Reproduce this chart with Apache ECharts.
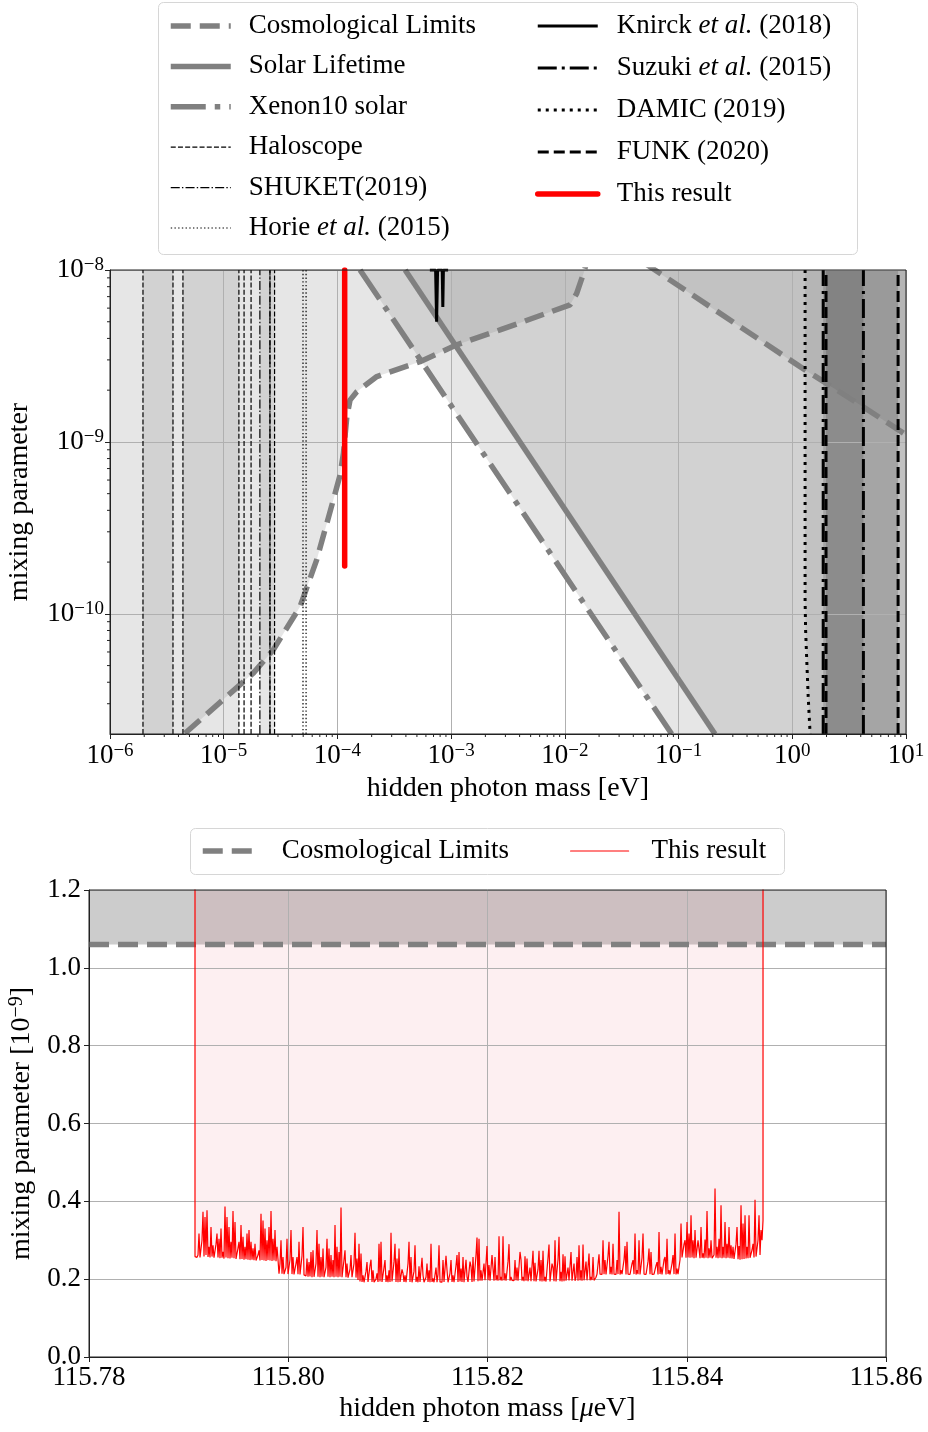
<!DOCTYPE html>
<html><head><meta charset="utf-8">
<script src="https://cdn.jsdelivr.net/npm/echarts@6/dist/echarts.min.js"></script>
<style>html,body{margin:0;padding:0;background:#fff}#c{width:928px;height:1432px}</style>
</head><body><div id="c"></div>
<script>
// ===================== DATA =====================
// --- Top panel: hidden photon mass [eV] vs mixing parameter ---
const topXRange = [1e-6, 10];
const topYRange = [2e-11, 1e-8];
const cosmoLeft = [[4.57e-6,2.02e-11],[1.06e-5,3.30e-11],[1.82e-5,4.52e-11],[2.73e-5,6.18e-11],[4.69e-5,1.10e-10],[6.57e-5,2.06e-10],[9.2e-5,4.6e-10],[1.054e-4,6.4e-10],[1.13e-4,8.6e-10],[1.21e-4,1.40e-9],[1.29e-4,1.75e-9],[1.48e-4,1.96e-9],[2.22e-4,2.40e-9],[5.32e-4,2.93e-9],[1.12e-3,3.67e-9],[2.69e-3,4.48e-9],[1.11e-2,6.27e-9],[1.27e-2,7.3e-9],[1.46e-2,9.56e-9],[1.52e-2,1.05e-8]];
const cosmoRight = [[0.050,1.1e-8],[0.062,1e-8],[1.17,2.74e-9],[4.2,1.60e-9],[10,1.10e-9]];
const solarLifetime = [[3.94e-4,1e-8],[0.209,2e-11]];
const xenon10 = [[1.58e-4,1e-8],[0.087,2e-11]];
const haloscopeLines = [1.95e-6,3.58e-6,4.38e-6,1.36e-5,1.51e-5,1.74e-5,2.55e-5,2.8e-5];
const haloscopeBands = [[1.95e-6,3.58e-6],[4.38e-6,1.36e-5],[2.08e-5,2.8e-5]];
const shuketLines = [2.08e-5,2.55e-5];
const horieLines = [4.98e-5,5.30e-5];
const knirck = [[6.5e-4,1e-8],[7.3e-4,1e-8],[7.45e-4,5.0e-9],[7.6e-4,1e-8],[8.35e-4,1e-8],[8.45e-4,6.1e-9],[8.55e-4,1e-8],[9.4e-4,1e-8]];
const suzukiLines = [1.87,4.22];
const suzukiBand = [1.87,4.22];
const damic = [[1.296,1e-8],[1.296,1.2e-10],[1.31,8e-11],[1.34,5.4e-11],[1.38,3.3e-11],[1.435,2e-11]];
const funkLines = [1.98,8.52];
const funkBand = [1.98,8.52];
const thisResultTop = [[1.158e-4,1.9e-10],[1.158e-4,1e-8]];

// --- Bottom panel: hidden photon mass [ueV] vs mixing parameter [1e-9] ---
const bottomXRange = [115.78, 115.86];
const bottomYRange = [0, 1.2];
const cosmoBottom = 1.06;
const massStart = 115.79064;
const massStep = 0.00010038;
const edgeTop = 1.3; // the result curve runs off the top at both scan edges
const resultVals = [
0.258,0.257,0.256,0.262,0.317,0.256,0.258,0.300,0.373,0.258,0.360,0.262,0.377,0.257,0.283,0.256,0.334,0.258,0.287,0.255,
0.256,0.290,0.317,0.256,0.304,0.254,0.330,0.255,0.270,0.253,0.387,0.256,0.360,0.254,0.334,0.253,0.296,0.255,0.375,0.254,
0.347,0.252,0.252,0.280,0.296,0.251,0.339,0.252,0.309,0.250,0.283,0.251,0.317,0.250,0.326,0.249,0.296,0.250,0.279,0.249,
0.291,0.248,0.249,0.262,0.274,0.248,0.368,0.249,0.351,0.248,0.330,0.247,0.300,0.249,0.334,0.248,0.375,0.247,0.304,0.248,
0.326,0.246,0.283,0.250,0.214,0.240,0.300,0.214,0.257,0.213,0.212,0.230,0.304,0.213,0.214,0.250,0.326,0.213,0.257,0.212,
0.213,0.240,0.257,0.213,0.296,0.212,0.212,0.260,0.334,0.211,0.211,0.208,0.253,0.206,0.244,0.207,0.270,0.205,0.274,0.206,
0.206,0.240,0.326,0.206,0.291,0.205,0.257,0.206,0.279,0.205,0.205,0.230,0.304,0.206,0.279,0.205,0.262,0.206,0.249,0.205,
0.339,0.206,0.283,0.205,0.270,0.206,0.384,0.205,0.206,0.250,0.274,0.205,0.240,0.204,0.205,0.225,0.262,0.205,0.205,0.240,
0.319,0.204,0.253,0.198,0.291,0.194,0.266,0.193,0.210,0.192,0.193,0.220,0.244,0.193,0.194,0.235,0.250,0.193,0.223,0.192,
0.193,0.200,0.215,0.193,0.291,0.194,0.296,0.193,0.194,0.230,0.249,0.193,0.210,0.192,0.223,0.193,0.319,0.194,0.193,0.245,
0.291,0.193,0.253,0.192,0.279,0.193,0.192,0.225,0.215,0.193,0.210,0.192,0.193,0.240,0.296,0.193,0.257,0.192,0.193,0.220,
0.287,0.193,0.206,0.192,0.233,0.193,0.192,0.255,0.210,0.192,0.193,0.205,0.240,0.193,0.223,0.192,0.291,0.193,0.202,0.192,
0.193,0.230,0.192,0.212,0.287,0.193,0.197,0.192,0.249,0.193,0.193,0.260,0.223,0.192,0.194,0.215,0.249,0.193,0.210,0.192,
0.193,0.235,0.262,0.193,0.270,0.194,0.227,0.193,0.257,0.192,0.193,0.250,0.206,0.193,0.194,0.245,0.232,0.193,0.257,0.194,
0.195,0.262,0.307,0.195,0.304,0.196,0.223,0.196,0.196,0.240,0.197,0.196,0.285,0.197,0.236,0.196,0.196,0.262,0.227,0.196,
0.257,0.197,0.210,0.196,0.310,0.197,0.206,0.196,0.310,0.197,0.215,0.196,0.195,0.245,0.290,0.196,0.206,0.197,0.202,0.196,
0.249,0.197,0.230,0.196,0.196,0.270,0.250,0.196,0.206,0.195,0.259,0.196,0.253,0.195,0.197,0.230,0.195,0.194,0.273,0.195,
0.242,0.194,0.197,0.225,0.273,0.195,0.249,0.194,0.273,0.195,0.206,0.194,0.195,0.255,0.289,0.194,0.197,0.240,0.230,0.195,
0.300,0.194,0.196,0.250,0.309,0.195,0.219,0.194,0.264,0.195,0.259,0.196,0.196,0.230,0.197,0.195,0.270,0.196,0.197,0.240,
0.196,0.205,0.257,0.196,0.287,0.197,0.223,0.196,0.289,0.197,0.198,0.245,0.197,0.198,0.266,0.197,0.206,0.198,0.257,0.197,
0.197,0.205,0.213,0.212,0.264,0.213,0.215,0.212,0.300,0.213,0.249,0.212,0.213,0.260,0.296,0.213,0.232,0.212,0.291,0.213,
0.215,0.212,0.249,0.213,0.373,0.212,0.223,0.213,0.213,0.250,0.285,0.212,0.296,0.213,0.215,0.212,0.212,0.240,0.249,0.213,
0.317,0.212,0.223,0.213,0.300,0.212,0.214,0.255,0.317,0.213,0.215,0.212,0.212,0.245,0.279,0.213,0.270,0.212,0.215,0.213,
0.213,0.235,0.244,0.212,0.321,0.213,0.232,0.212,0.213,0.250,0.257,0.212,0.304,0.213,0.223,0.212,0.212,0.240,0.262,0.213,
0.317,0.212,0.227,0.213,0.215,0.250,0.343,0.256,0.255,0.290,0.300,0.255,0.347,0.256,0.317,0.255,0.364,0.256,0.300,0.254,
0.326,0.255,0.254,0.300,0.296,0.254,0.334,0.255,0.266,0.254,0.302,0.255,0.375,0.254,0.279,0.255,0.300,0.254,0.255,0.262,
0.433,0.255,0.283,0.254,0.304,0.255,0.390,0.254,0.283,0.255,0.347,0.254,0.291,0.255,0.334,0.254,0.287,0.253,0.283,0.252,
0.253,0.290,0.334,0.251,0.285,0.250,0.390,0.251,0.343,0.252,0.364,0.253,0.283,0.254,0.364,0.255,0.253,0.275,0.291,0.256,
0.404,0.258,0.262,0.300,0.364,0.262,0.326,0.300,0.351
];

// ===================== STYLE / BUILD =====================
const F = "'Liberation Serif','DejaVu Serif',serif";
const GRAY = '#808080';
const FILL = 'rgba(128,128,128,0.2)';
const DARKFILL = 'rgba(0,0,0,0.15)';
const FAR = {lo:1e-14, hi:1e-5, left:1e-8, right:1e3};

function polySeries(points, fill) {
  return {type:'custom', coordinateSystem:'cartesian2d', xAxisIndex:0, yAxisIndex:0, clip:true, silent:true, z:1,
    data:[points[0]],
    renderItem:(params, api) => ({type:'polygon', shape:{points: points.map(p => api.coord(p))}, style:{fill: fill}})};
}
function lineSeries(name, data, color, width, type, extra) {
  return Object.assign({type:'line', name:name, data:data, xAxisIndex:0, yAxisIndex:0, symbol:'none', showSymbol:false,
    silent:true, z:3, color:color, itemStyle:{color:color},
    lineStyle:{color:color, width:width, type:type}, clip:true}, extra || {});
}
function vline(name, x, color, width, type) {
  return lineSeries(name, [[x, topYRange[0]],[x, topYRange[1]]], color, width, type);
}
const first = a => a[0], last = a => a[a.length-1];
const cosmoLeftPoly = cosmoLeft.concat([[last(cosmoLeft)[0],FAR.hi],[FAR.left,FAR.hi],[FAR.left,FAR.lo],[first(cosmoLeft)[0],FAR.lo]]);
const cosmoRightPoly = cosmoRight.concat([[FAR.right,last(cosmoRight)[1]],[FAR.right,FAR.hi],[first(cosmoRight)[0],FAR.hi]]);
const rightOf = pts => pts.concat([[last(pts)[0],FAR.lo],[FAR.right,FAR.lo],[FAR.right,FAR.hi],[first(pts)[0],FAR.hi]]);
const band = b => [[b[0],FAR.lo],[b[1],FAR.lo],[b[1],FAR.hi],[b[0],FAR.hi]];

const series = [];
// fills
series.push(polySeries(cosmoLeftPoly, FILL));
series.push(polySeries(cosmoRightPoly, FILL));
series.push(polySeries(rightOf(xenon10), FILL));
series.push(polySeries(rightOf(solarLifetime), FILL));
haloscopeBands.forEach(b => series.push(polySeries(band(b), FILL)));
series.push(polySeries(rightOf(damic), FILL));
series.push(polySeries(band(funkBand), DARKFILL));
series.push(polySeries(band(suzukiBand), DARKFILL));
// lines
series.push(lineSeries('Cosmological Limits', cosmoLeft, GRAY, 5.5, [20,9]));
series.push(lineSeries('Cosmological Limits', cosmoRight, GRAY, 5.5, [20,9]));
series.push(lineSeries('Solar Lifetime', solarLifetime, GRAY, 5.5, 'solid'));
series.push(lineSeries('Xenon10 solar', xenon10, GRAY, 5.5, [35,9,5.5,9]));
haloscopeLines.forEach(x => series.push(vline('Haloscope', x, '#000', 1.2, [5,2.2])));
shuketLines.forEach(x => series.push(vline('SHUKET(2019)', x, '#000', 1.2, [9,2.2,1.4,2.2])));
horieLines.forEach(x => series.push(vline('Horie et al. (2015)', x, '#000', 1.2, [1.4,2.3])));
series.push(lineSeries('Knirck et al. (2018)', knirck, '#000', 3, 'solid'));
suzukiLines.forEach(x => series.push(vline('Suzuki et al. (2015)', x, '#000', 3, [19,5,3,5])));
series.push(lineSeries('DAMIC (2019)', damic, '#000', 3, [3,5]));
funkLines.forEach(x => series.push(vline('FUNK (2020)', x, '#000', 3, [11,5])));
series.push(lineSeries('This result', thisResultTop, '#ff0000', 5.5, 'solid', {lineStyle:{color:'#ff0000', width:5.5, cap:'round'}}));

// minor ticks (log axes) for top panel
const xMinor = [], yMinor = [];
for (let e = -6; e < 1; e++) for (let m = 2; m <= 9; m++) xMinor.push(m * Math.pow(10, e));
for (let e = -11; e < -8; e++) for (let m = 2; m <= 9; m++) { const v = m * Math.pow(10, e); if (v > topYRange[0] * 1.01 && v < topYRange[1]) yMinor.push(v); }
series.push({type:'custom', coordinateSystem:'cartesian2d', xAxisIndex:0, yAxisIndex:0, silent:true, z:5, clip:false,
  data: xMinor.map(v => [v, topYRange[0]]),
  renderItem:(p, api) => { const c = api.coord([api.value(0), api.value(1)]);
    return {type:'line', shape:{x1:c[0], y1:c[1], x2:c[0], y2:c[1]+3}, style:{stroke:'#222', lineWidth:1}}; }});
series.push({type:'custom', coordinateSystem:'cartesian2d', xAxisIndex:0, yAxisIndex:0, silent:true, z:5, clip:false,
  data: yMinor.map(v => [topXRange[0], v]),
  renderItem:(p, api) => { const c = api.coord([api.value(0), api.value(1)]);
    return {type:'line', shape:{x1:c[0], y1:c[1], x2:c[0]-3, y2:c[1]}, style:{stroke:'#222', lineWidth:1}}; }});

// bottom panel
const resultData = [[massStart, edgeTop]]
  .concat(resultVals.map((v, i) => [massStart + i * massStep, v]))
  .concat([[massStart + (resultVals.length - 1) * massStep, edgeTop]]);
const cosmoBottomData = [[bottomXRange[0], cosmoBottom], [bottomXRange[1], cosmoBottom]];
series.push({type:'line', xAxisIndex:1, yAxisIndex:1, data:cosmoBottomData, symbol:'none', silent:true, z:1,
  lineStyle:{width:0}, areaStyle:{origin:'end', color:'rgba(128,128,128,0.4)', opacity:1}});
series.push({type:'line', name:'Cosmological Limits', xAxisIndex:1, yAxisIndex:1, data:cosmoBottomData, symbol:'none', silent:true, z:3,
  color:GRAY, itemStyle:{color:GRAY}, lineStyle:{color:GRAY, width:5.5, type:[20,9]}});
series.push({type:'line', xAxisIndex:1, yAxisIndex:1, data:resultData, symbol:'none', silent:true, z:1, clip:true,
  lineStyle:{width:0}, areaStyle:{origin:'end', color:'rgba(230,30,60,0.07)', opacity:1}});
series.push({type:'line', name:'This result', xAxisIndex:1, yAxisIndex:1, data:resultData, symbol:'none', silent:true, z:4, clip:true,
  color:'#ff0000', itemStyle:{color:'#ff0000'}, lineStyle:{color:'#ff0000', width:1.2}});

// axes helpers
const pow10 = v => { const e = Math.round(Math.log10(v)); return '10{sup|' + (e < 0 ? '\u2212' + (-e) : e) + '}'; };
const supRich = {sup:{fontSize:19, fontFamily:F, color:'#000', padding:[0,0,9,0]}};
const labelBase = {fontFamily:F, fontSize:27, color:'#000'};
const nameBase = {fontFamily:F, fontSize:28, color:'#000'};
const tickStyle = {show:true, length:5, lineStyle:{color:'#222', width:1}};
const splitStyle = {show:true, lineStyle:{color:'#b0b0b0', width:1}};

const legendText = {fontFamily:F, fontSize:27, color:'#000', lineHeight:30,
  rich:{i:{fontFamily:F, fontSize:27, fontStyle:'italic', color:'#000', lineHeight:30}}};
const fmtLegend = name => name.replace('et al.', '{i|et al.}');
const L = (name, w) => ({name:name, lineStyle:{width:w}, itemStyle:{opacity:0}});

const option = {
  animation:false,
  backgroundColor:'#fff',
  textStyle:{fontFamily:F},
  graphic:[
    {type:'rect', z:0, silent:true, shape:{x:158.5, y:2.5, width:699, height:252, r:5}, style:{fill:'#fff', stroke:'#d6d6d6', lineWidth:1}},
    {type:'rect', z:0, silent:true, shape:{x:190.5, y:828.5, width:594, height:46, r:5}, style:{fill:'#fff', stroke:'#d6d6d6', lineWidth:1}}
  ],
  legend:[
    {orient:'vertical', left:168, top:11, padding:0, itemWidth:60, itemHeight:14, itemGap:10.4, selectedMode:false,
     itemStyle:{opacity:0},
     textStyle:Object.assign({padding:[0,0,0,13]}, legendText), formatter:fmtLegend,
     data:[L('Cosmological Limits',5.5), L('Solar Lifetime',5.5), L('Xenon10 solar',5.5), L('Haloscope',1.2), L('SHUKET(2019)',1.2), L('Horie et al. (2015)',1.2)]},
    {orient:'vertical', left:535, top:11, padding:0, itemWidth:60, itemHeight:14, itemGap:12, selectedMode:false,
     itemStyle:{opacity:0},
     textStyle:Object.assign({padding:[0,0,0,14]}, legendText), formatter:fmtLegend,
     data:[L('Knirck et al. (2018)',3), L('Suzuki et al. (2015)',3), L('DAMIC (2019)',3), L('FUNK (2020)',3), L('This result',5.5)]},
    {orient:'horizontal', left:200, top:836, padding:0, itemWidth:55, itemHeight:14, selectedMode:false,
     itemStyle:{opacity:0},
     textStyle:Object.assign({padding:[0,0,0,19]}, legendText), data:[L('Cosmological Limits',5.5)]},
    {orient:'horizontal', left:570, top:836, padding:0, itemWidth:58, itemHeight:14, selectedMode:false,
     itemStyle:{opacity:0},
     textStyle:Object.assign({padding:[0,0,0,18]}, legendText), data:[L('This result',1.2)]}
  ],
  grid:[
    {left:110, top:270, width:796, height:464, show:true, borderColor:'#222', borderWidth:1, backgroundColor:'transparent', z:6, containLabel:false, outerBoundsMode:'none'},
    {left:89, top:890, width:797, height:467, show:true, borderColor:'#222', borderWidth:1, backgroundColor:'transparent', z:6, containLabel:false, outerBoundsMode:'none'}
  ],
  xAxis:[
    {type:'log', gridIndex:0, min:topXRange[0], max:topXRange[1], logBase:10, z:2,
     name:'hidden photon mass [eV]', nameLocation:'middle', nameGap:41, nameTextStyle:Object.assign({}, nameBase),
     axisLine:{show:true, lineStyle:{color:'#222'}}, axisTick:tickStyle, splitLine:splitStyle, minorTick:{show:false},
     axisLabel:Object.assign({margin:8, formatter:pow10, rich:supRich}, labelBase)},
    {type:'value', gridIndex:1, min:bottomXRange[0], max:bottomXRange[1], interval:0.02, z:2,
     name:'hidden photon mass [{i|\u03bc}eV]', nameLocation:'middle', nameGap:38,
     nameTextStyle:Object.assign({rich:{i:{fontFamily:F, fontSize:28, fontStyle:'italic', color:'#000'}}}, nameBase),
     axisLine:{show:true, lineStyle:{color:'#222'}}, axisTick:tickStyle, splitLine:splitStyle,
     axisLabel:Object.assign({margin:7, formatter:v => v.toFixed(2)}, labelBase)}
  ],
  yAxis:[
    {type:'log', gridIndex:0, min:topYRange[0], max:topYRange[1], logBase:10, z:2,
     name:'mixing parameter', nameLocation:'middle', nameGap:76, nameTextStyle:Object.assign({}, nameBase),
     axisLine:{show:true, lineStyle:{color:'#222'}}, axisTick:tickStyle, splitLine:splitStyle, minorTick:{show:false},
     axisLabel:Object.assign({margin:6, formatter:pow10, rich:supRich, showMinLabel:false}, labelBase)},
    {type:'value', gridIndex:1, min:bottomYRange[0], max:bottomYRange[1], interval:0.2, z:2,
     name:'mixing parameter [10{sup|\u22129}]', nameLocation:'middle', nameGap:53,
     nameTextStyle:Object.assign({rich:{sup:{fontSize:20, fontFamily:F, color:'#000', padding:[0,0,9,0]}}}, nameBase),
     axisLine:{show:true, lineStyle:{color:'#222'}}, axisTick:tickStyle, splitLine:splitStyle,
     axisLabel:Object.assign({margin:8, formatter:v => v.toFixed(1)}, labelBase)}
  ],
  series:series
};
const chart = echarts.init(document.getElementById('c'), null, {renderer:'canvas'});
chart.setOption(option);
</script>
</body></html>
